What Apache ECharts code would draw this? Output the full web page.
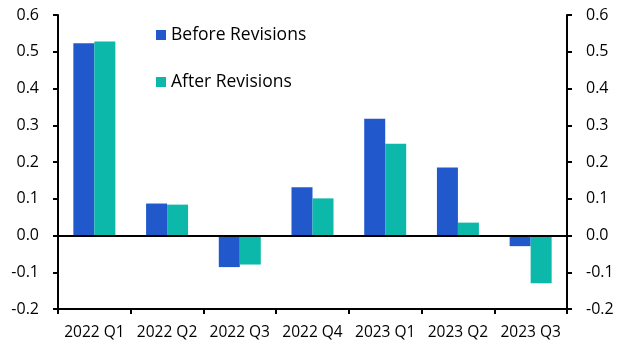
<!DOCTYPE html>
<html><head><meta charset="utf-8">
<script src="https://cdn.jsdelivr.net/npm/echarts@6/dist/echarts.min.js"></script>
<style>html,body{margin:0;padding:0;background:#fff}#c{width:631px;height:356px}</style>
</head><body><div id="c"></div>
<script>
const categories = ['2022 Q1','2022 Q2','2022 Q3','2022 Q4','2023 Q1','2023 Q2','2023 Q3'];
const beforeRevisions = [0.523, 0.087, -0.086, 0.131, 0.318, 0.185, -0.029];
const afterRevisions = [0.528, 0.084, -0.079, 0.101, 0.250, 0.035, -0.130];
const seriesNames = ['Before Revisions','After Revisions'];

const font = 'Open Sans';
const axisY = (pos) => ({
  type:'value', position:pos, min:-0.2, max:0.6, interval:0.1,
  axisLine:{show:true, lineStyle:{color:'#000', width:2}},
  axisTick:{show:true, length:5, lineStyle:{color:'#000', width:2}},
  splitLine:{show:false},
  axisLabel:{color:'#000', fontFamily:font, fontSize:16, margin:19,
    formatter:v=>v.toFixed(1)}
});
const chart = echarts.init(document.getElementById('c'));
chart.setOption({
  animation:false,
  grid:{left:58, right:64, top:15, bottom:47},
  legend:{
    left:151, top:21, orient:'vertical', itemGap:29, itemWidth:10, itemHeight:10,
    icon:'rect', textStyle:{fontFamily:font, fontSize:17.5, color:'#000'},
    data:seriesNames
  },
  xAxis:{
    type:'category', data:categories,
    axisLine:{onZero:false, lineStyle:{color:'#000', width:2}},
    axisTick:{show:true, length:5, alignWithLabel:false, lineStyle:{color:'#000', width:2}},
    axisLabel:{color:'#000', fontFamily:font, fontSize:15.5, margin:16, interval:0, hideOverlap:false}
  },
  yAxis:[axisY('left'), axisY('right')],
  series:[
    {name:seriesNames[0], type:'bar', data:beforeRevisions, barWidth:21, barGap:'0%',
     itemStyle:{color:'#2159cd'},
     markLine:{silent:true, symbol:['none','none'], label:{show:false},
       lineStyle:{color:'#000', width:2, type:'solid'}, data:[{yAxis:0}]}},
    {name:seriesNames[1], type:'bar', data:afterRevisions, barWidth:21, barGap:'0%',
     itemStyle:{color:'#0bb8aa'}}
  ]
});
</script></body></html>
